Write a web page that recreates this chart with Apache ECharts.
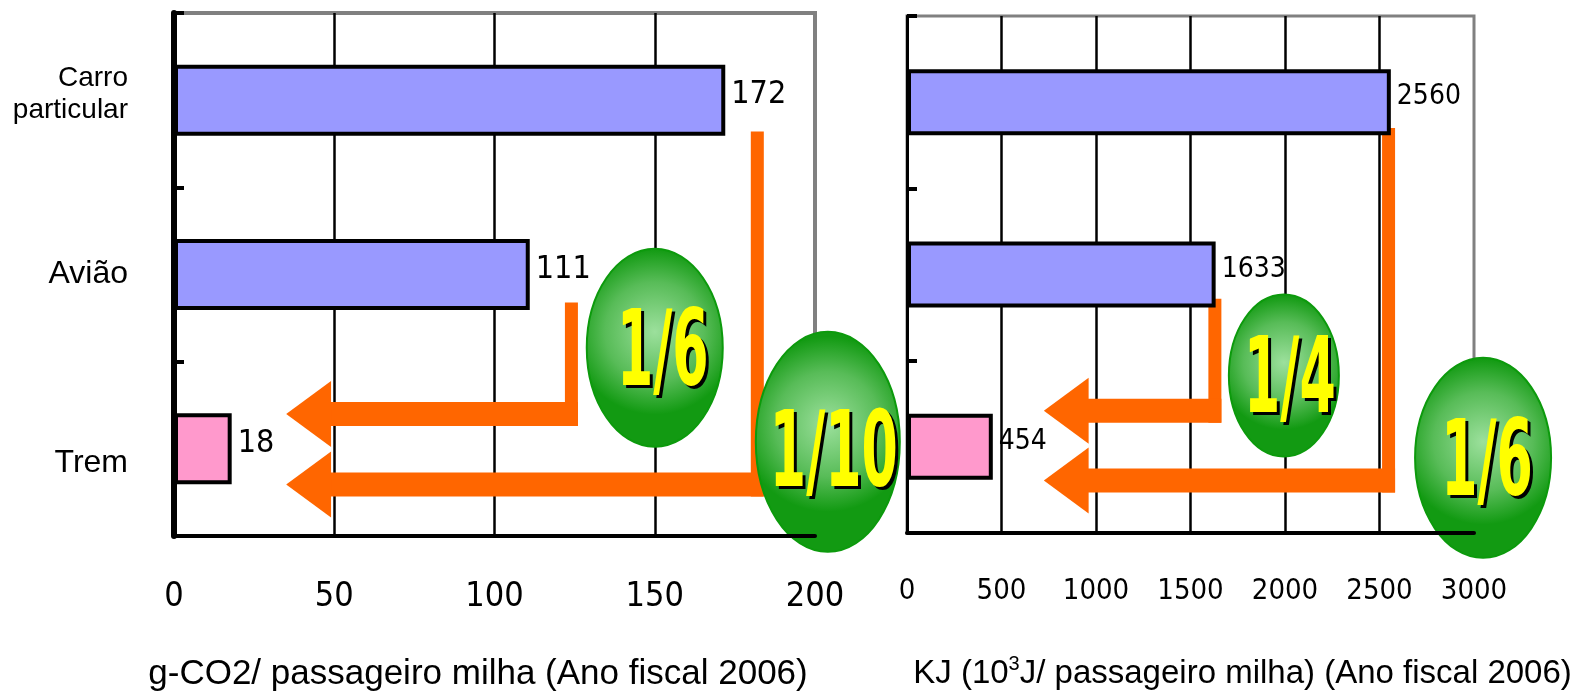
<!DOCTYPE html>
<html>
<head>
<meta charset="utf-8">
<script src="https://cdn.jsdelivr.net/npm/echarts@6/dist/echarts.min.js"></script>
<style>
  html, body { margin: 0; padding: 0; background: #fff; }
  #chart { width: 1578px; height: 691px; }
</style>
</head>
<body>
<div id="chart"></div>
<script>
// categories, top to bottom
const categories = ['Carro particular', 'Avião', 'Trem'];
// g-CO2 / passageiro milha
const co2Values = [172, 111, 18];
// KJ / passageiro milha
const energyValues = [2560, 1633, 454];
const co2Ticks = [0, 50, 100, 150, 200];
const energyTicks = [0, 500, 1000, 1500, 2000, 2500, 3000];
const barColors = ['#9999ff', '#9999ff', '#ff99cc'];

// arrows (x in axis units, y as category + fraction of a band)
const arrows = [
    { grid: 0, x: 124, topCat: 1, topOff: 0.16, lineCat: 2, lineOff: -0.2, tipX: 35, baseX: 49 },
    { grid: 0, x: 182, topCat: 0, topOff: 0.18, lineCat: 2, lineOff: 0.205, tipX: 35, baseX: 49 },
    { grid: 1, x: 1629, topCat: 1, topOff: 0.14, lineCat: 2, lineOff: -0.21, tipX: 724, baseX: 961 },
    { grid: 1, x: 2548, topCat: 0, topOff: 0.15, lineCat: 2, lineOff: 0.196, tipX: 724, baseX: 961 }
];
const ratios = [
    { grid: 0, x: 150, cat: 1, off: 0.42, rx: 68, ry: 99, text: '1/6', dx: 8, dy: 10 },
    { grid: 0, x: 204, cat: 2, off: -0.04, rx: 72, ry: 110, text: '1/10', dx: 6, dy: 17 },
    { grid: 1, x: 1994, cat: 1, off: 0.586, rx: 55, ry: 81, text: '1/4', dx: 6, dy: 9 },
    { grid: 1, x: 3048, cat: 2, off: 0.064, rx: 68, ry: 100, text: '1/6', dx: 4, dy: 10 }
];

const narrow = '"Liberation Sans Narrow", "DejaVu Sans Condensed", "Arial Narrow", sans-serif';
const sans = '"Liberation Sans", Arial, sans-serif';
const orange = '#ff6600';

const chart = echarts.init(document.getElementById('chart'));

function valueAxis(ticks, gridIndex, fontSize, name, nameSize, namePad) {
    return {
        type: 'value',
        gridIndex: gridIndex,
        min: ticks[0],
        max: ticks[ticks.length - 1],
        interval: ticks[1] - ticks[0],
        axisLine: { show: true, lineStyle: { color: '#000', width: 4 } },
        axisTick: { show: false },
        splitLine: {
            show: true,
            showMinLine: false,
            showMaxLine: false,
            lineStyle: { color: '#000', width: 2.5 }
        },
        axisLabel: {
            color: '#000',
            fontFamily: narrow,
            fontSize: fontSize,
            margin: 44,
            formatter: function (v) { return String(v); }
        },
        name: name,
        nameLocation: 'middle',
        nameGap: 121,
        nameTextStyle: {
            color: '#000',
            fontFamily: sans,
            fontSize: nameSize,
            padding: namePad,
            rich: {
                sup: { fontSize: 20, fontFamily: sans, color: '#000', padding: [0, 0, 20, 0] }
            }
        }
    };
}

function catAxis(gridIndex, showLabel, lineWidth) {
    return {
        type: 'category',
        gridIndex: gridIndex,
        data: categories,
        inverse: true,
        axisLine: { show: true, lineStyle: { color: '#000', width: lineWidth } },
        axisTick: { show: true, inside: true, length: 10, lineStyle: { color: '#000', width: 4 } },
        axisLabel: {
            show: showLabel,
            margin: 46,
            color: '#000',
            fontFamily: sans,
            lineHeight: 32,
            formatter: function (value) {
                if (value === 'Carro particular') {
                    return '{c|Carro}\n{c|particular}\n{e| }';
                }
                if (value === 'Trem') {
                    return '{t|Trem}';
                }
                return '{a|' + value + '}';
            },
            rich: {
                c: { fontSize: 28, lineHeight: 32, align: 'right', fontFamily: sans, color: '#000' },
                e: { fontSize: 4, lineHeight: 12 },
                a: { fontSize: 32, fontFamily: sans, color: '#000' },
                t: { fontSize: 32, fontFamily: sans, color: '#000', padding: [28, 0, 0, 0] }
            }
        },
        splitLine: { show: false }
    };
}

function barSeries(values, index, barWidth, fontSize) {
    return {
        type: 'bar',
        xAxisIndex: index,
        yAxisIndex: index,
        barWidth: barWidth,
        data: values.map(function (v, i) {
            return { value: v, itemStyle: { color: barColors[i] } };
        }),
        itemStyle: { borderColor: '#000', borderWidth: 4 },
        label: {
            show: true,
            position: 'right',
            distance: 6,
            offset: [0, -5],
            color: '#000',
            fontFamily: narrow,
            fontSize: fontSize
        },
        emphasis: { disabled: true },
        animation: false
    };
}

const option = {
    backgroundColor: '#fff',
    animation: false,
    grid: [
        { left: 174, top: 13, width: 641, height: 523, show: true, borderColor: '#808080', borderWidth: 4, backgroundColor: 'transparent', containLabel: false, outerBoundsMode: 'none' },
        { left: 907, top: 16, width: 567, height: 517, show: true, borderColor: '#808080', borderWidth: 3, backgroundColor: 'transparent', containLabel: false, outerBoundsMode: 'none' }
    ],
    xAxis: [
        valueAxis(co2Ticks, 0, 34, 'g-CO2/ passageiro milha (Ano fiscal 2006)', 35, [0, 33, 0, 0]),
        valueAxis(energyTicks, 1, 29, 'KJ (10{sup|3}J/ passageiro milha) (Ano fiscal 2006)', 33, [0, 0, 0, 104])
    ],
    yAxis: [
        catAxis(0, true, 6),
        catAxis(1, false, 3)
    ],
    series: [
        barSeries(co2Values, 0, 71, 32),
        barSeries(energyValues, 1, 66, 28)
    ]
};
chart.setOption(option);

function toPx(grid, xVal, cat, off) {
    const p = chart.convertToPixel({ gridIndex: grid }, [xVal, categories[cat]]);
    const p0 = chart.convertToPixel({ gridIndex: grid }, [0, categories[0]]);
    const p1 = chart.convertToPixel({ gridIndex: grid }, [0, categories[1]]);
    return [p[0], p[1] + off * (p1[1] - p0[1])];
}

function buildGraphics() {
    let items = [];
    const sw = 13, sh = 24, hh = 33;
    arrows.forEach(function (a) {
        const top = toPx(a.grid, a.x, a.topCat, a.topOff);
        const mid = toPx(a.grid, a.x, a.lineCat, a.lineOff);
        const tip = toPx(a.grid, a.tipX, a.lineCat, a.lineOff);
        const base = toPx(a.grid, a.baseX, a.lineCat, a.lineOff);
        items.push({
            type: 'rect', silent: true,
            shape: { x: top[0] - sw / 2, y: top[1], width: sw, height: mid[1] + sh / 2 - top[1] },
            style: { fill: orange }
        });
        items.push({
            type: 'rect', silent: true,
            shape: { x: base[0] - 1, y: mid[1] - sh / 2, width: top[0] + sw / 2 - base[0] + 1, height: sh },
            style: { fill: orange }
        });
        items.push({
            type: 'polygon', silent: true,
            shape: { points: [[tip[0], mid[1]], [base[0], mid[1] - hh], [base[0], mid[1] + hh]] },
            style: { fill: orange }
        });
    });
    ratios.forEach(function (r) {
        const c = toPx(r.grid, r.x, r.cat, r.off);
        items.push({
            type: 'ellipse', silent: true,
            shape: { cx: c[0], cy: c[1], rx: r.rx, ry: r.ry },
            style: {
                fill: {
                    type: 'radial', x: 0.5, y: 0.42, r: 0.6,
                    colorStops: [
                        { offset: 0, color: '#9ce09c' },
                        { offset: 0.6, color: '#58bc58' },
                        { offset: 1, color: '#129a12' }
                    ]
                },
                stroke: '#0c9a0c',
                lineWidth: 2
            }
        });
        const font = 'bold 100px ' + narrow;
        items.push({
            type: 'text', silent: true,
            x: c[0] + r.dx + 3, y: c[1] + r.dy + 3, scaleX: 0.58, scaleY: 1.06,
            style: { text: r.text, font: font, fill: '#000', textAlign: 'center', textVerticalAlign: 'middle', align: 'center', verticalAlign: 'middle' }
        });
        items.push({
            type: 'text', silent: true,
            x: c[0] + r.dx, y: c[1] + r.dy, scaleX: 0.58, scaleY: 1.06,
            style: { text: r.text, font: font, fill: '#ffff00', textAlign: 'center', textVerticalAlign: 'middle', align: 'center', verticalAlign: 'middle' }
        });
    });
    return items;
}

chart.setOption({ graphic: buildGraphics() });
</script>
</body>
</html>
